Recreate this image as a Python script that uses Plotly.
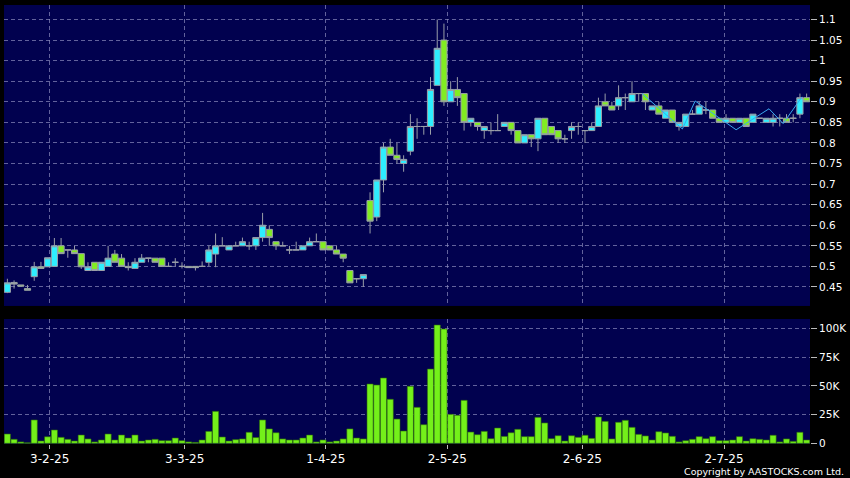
import plotly.graph_objects as go

# ---- data ----
open_ = [0.437, 0.461, 0.455, 0.446, 0.475, 0.499, 0.499, 0.50, 0.55, 0.54,
         0.54, 0.531, 0.49, 0.51, 0.49, 0.50, 0.53, 0.52, 0.50, 0.495,
         0.51, 0.52, 0.52, 0.52, 0.50, 0.51, 0.50, 0.50, 0.50, 0.50,
         0.51, 0.53, 0.55, 0.54, 0.55, 0.55, 0.55, 0.55, 0.57, 0.59,
         0.56, 0.55, 0.54, 0.54, 0.54, 0.55, 0.56, 0.56, 0.55, 0.54,
         0.53, 0.49, 0.47, 0.47, 0.66, 0.62, 0.71, 0.79, 0.77, 0.75,
         0.78, 0.84, 0.84, 0.84, 0.94, 1.05, 0.90, 0.93, 0.92, 0.85,
         0.85, 0.83, 0.83, 0.83, 0.84, 0.85, 0.83, 0.80, 0.82, 0.81,
         0.86, 0.84, 0.83, 0.81, 0.83, 0.84, 0.83, 0.83, 0.84, 0.90,
         0.89, 0.89, 0.91, 0.90, 0.92, 0.92, 0.88, 0.89, 0.86, 0.88,
         0.84, 0.84, 0.87, 0.87, 0.88, 0.88, 0.86, 0.85, 0.86, 0.85,
         0.86, 0.85, 0.86, 0.85, 0.85, 0.86, 0.86, 0.86, 0.87, 0.91]
high = [0.47, 0.466, 0.455, 0.455, 0.511, 0.511, 0.521, 0.569, 0.569, 0.54,
        0.55, 0.531, 0.51, 0.51, 0.51, 0.55, 0.54, 0.53, 0.51, 0.52,
        0.53, 0.52, 0.52, 0.52, 0.51, 0.52, 0.51, 0.50, 0.50, 0.512,
        0.55, 0.58, 0.571, 0.55, 0.56, 0.57, 0.56, 0.57, 0.63, 0.60,
        0.56, 0.56, 0.55, 0.56, 0.55, 0.57, 0.58, 0.56, 0.55, 0.55,
        0.53, 0.49, 0.47, 0.48, 0.68, 0.71, 0.80, 0.81, 0.80, 0.77,
        0.87, 0.86, 0.84, 0.96, 1.10, 1.09, 0.95, 0.96, 0.92, 0.86,
        0.85, 0.84, 0.85, 0.87, 0.85, 0.85, 0.83, 0.82, 0.82, 0.86,
        0.86, 0.84, 0.83, 0.82, 0.85, 0.85, 0.83, 0.85, 0.91, 0.92,
        0.90, 0.94, 0.92, 0.95, 0.92, 0.92, 0.89, 0.90, 0.88, 0.88,
        0.85, 0.87, 0.88, 0.90, 0.90, 0.88, 0.86, 0.87, 0.86, 0.86,
        0.86, 0.87, 0.86, 0.86, 0.87, 0.87, 0.87, 0.87, 0.92, 0.92]
low = [0.435, 0.446, 0.452, 0.442, 0.465, 0.495, 0.499, 0.50, 0.531, 0.521,
       0.531, 0.494, 0.49, 0.49, 0.49, 0.50, 0.51, 0.50, 0.49, 0.495,
       0.51, 0.51, 0.51, 0.50, 0.50, 0.50, 0.495, 0.497, 0.49, 0.50,
       0.50, 0.498, 0.55, 0.54, 0.55, 0.55, 0.54, 0.54, 0.56, 0.55,
       0.54, 0.55, 0.53, 0.54, 0.54, 0.55, 0.56, 0.54, 0.54, 0.53,
       0.51, 0.46, 0.46, 0.45, 0.58, 0.61, 0.68, 0.77, 0.75, 0.73,
       0.77, 0.81, 0.82, 0.82, 0.94, 0.89, 0.90, 0.89, 0.83, 0.84,
       0.83, 0.81, 0.82, 0.83, 0.84, 0.82, 0.80, 0.80, 0.79, 0.78,
       0.82, 0.82, 0.80, 0.80, 0.81, 0.82, 0.80, 0.83, 0.84, 0.89,
       0.88, 0.88, 0.88, 0.90, 0.90, 0.88, 0.88, 0.87, 0.86, 0.85,
       0.83, 0.84, 0.87, 0.87, 0.87, 0.86, 0.85, 0.85, 0.85, 0.85,
       0.84, 0.85, 0.86, 0.85, 0.84, 0.84, 0.85, 0.85, 0.86, 0.90]
close = [0.46, 0.457, 0.452, 0.442, 0.499, 0.495, 0.521, 0.55, 0.531, 0.54,
         0.531, 0.499, 0.499, 0.49, 0.51, 0.52, 0.51, 0.50, 0.497, 0.51,
         0.52, 0.52, 0.51, 0.50, 0.50, 0.51, 0.50, 0.497, 0.497, 0.50,
         0.54, 0.55, 0.55, 0.55, 0.55, 0.56, 0.55, 0.57, 0.60, 0.57,
         0.55, 0.55, 0.54, 0.54, 0.55, 0.56, 0.56, 0.54, 0.54, 0.53,
         0.52, 0.46, 0.47, 0.48, 0.61, 0.71, 0.79, 0.77, 0.76, 0.76,
         0.84, 0.84, 0.84, 0.93, 1.03, 0.90, 0.93, 0.91, 0.85, 0.86,
         0.84, 0.84, 0.83, 0.83, 0.85, 0.83, 0.80, 0.82, 0.81, 0.86,
         0.82, 0.82, 0.81, 0.81, 0.84, 0.84, 0.83, 0.84, 0.89, 0.89,
         0.88, 0.91, 0.91, 0.92, 0.92, 0.90, 0.89, 0.87, 0.88, 0.85,
         0.85, 0.87, 0.87, 0.89, 0.88, 0.86, 0.85, 0.86, 0.85, 0.86,
         0.84, 0.87, 0.86, 0.86, 0.86, 0.86, 0.85, 0.86, 0.91, 0.90]
volume = [8100, 3500, 1200, 500, 20300, 2000, 5700, 11600, 5200, 3500,
          2000, 7200, 3800, 1200, 2900, 8100, 2900, 7200, 4600, 7200,
          2000, 2900, 3500, 2300, 2300, 4600, 2300, 1200, 800, 2900,
          10400, 27800, 5500, 2000, 3200, 3800, 9600, 5000, 20300, 12500,
          9200, 3800, 2900, 2900, 4600, 7200, 1200, 2900, 1200, 2000,
          3800, 12500, 4600, 3800, 51600, 50700, 56800, 38300, 21100, 10700,
          49600, 31300, 16200, 64600, 102900, 99400, 25200, 24400, 37400, 9800,
          7500, 10400, 4000, 13300, 6000, 9200, 12200, 5800, 5800, 22600,
          17700, 4000, 6600, 2000, 6600, 5200, 7000, 4300, 22900, 19100,
          3800, 18300, 20000, 13900, 7800, 6400, 2900, 10100, 9000, 6100,
          1200, 2300, 3500, 5800, 4000, 5800, 2300, 2300, 2900, 5800,
          2000, 4000, 3500, 2900, 7000, 1200, 3800, 1700, 9600, 2900]
days = list(range(len(close)))

# thin comparison line over the last weeks (vertices)
line_pos = [94.5, 100.5, 102.4, 108.5, 113.4, 115.5, 118.3]
line_val = [0.92, 0.834, 0.902, 0.832, 0.883, 0.847, 0.912]

tick_pos = [6.3, 26.4, 47.4, 65.5, 85.6, 106.7]
tick_labels = ["3-2-25", "3-3-25", "1-4-25", "2-5-25", "2-6-25", "2-7-25"]
price_ticks = [0.45, 0.5, 0.55, 0.6, 0.65, 0.7, 0.75, 0.8, 0.85, 0.9, 0.95, 1.0, 1.05, 1.1]
price_labels = ["0.45", "0.5", "0.55", "0.6", "0.65", "0.7", "0.75", "0.8", "0.85",
                "0.9", "0.95", "1", "1.05", "1.1"]
vol_ticks = [0, 25000, 50000, 75000, 100000]
vol_labels = ["0", "25K", "50K", "75K", "100K"]

# ---- styles ----
NAVY = "#01014f"
GRID = "rgba(140,140,190,0.7)"
UP = "#2EEEFF"
DOWN = "#82EC22"
EDGE = "#9a9fa8"

fig = go.Figure()
fig.add_trace(go.Candlestick(
    x=days, open=open_, high=high, low=low, close=close,
    increasing=dict(fillcolor=UP, line=dict(color=EDGE, width=1)),
    decreasing=dict(fillcolor=DOWN, line=dict(color=EDGE, width=1)),
    whiskerwidth=0, xaxis="x", yaxis="y", showlegend=False, hoverinfo="skip"))
fig.add_trace(go.Scatter(
    x=line_pos, y=line_val, mode="lines",
    line=dict(color="#3aa8f0", width=1), xaxis="x", yaxis="y",
    showlegend=False, hoverinfo="skip"))
fig.add_trace(go.Bar(
    x=days, y=volume, marker=dict(color="#74F01A", line=dict(color="#2d6a0c", width=0.6)),
    xaxis="x2", yaxis="y2", showlegend=False, hoverinfo="skip"))

font_ax = dict(family="DejaVu Sans", size=10.5, color="#ffffff")
grid_common = dict(showgrid=True, gridcolor=GRID, gridwidth=1, griddash="4px,3px",
                   zeroline=False, showline=False)

fig.update_layout(
    width=850, height=478,
    margin=dict(l=4, r=40, t=5, b=34),
    paper_bgcolor="#000000", plot_bgcolor=NAVY,
    boxgap=0.08, boxgroupgap=0, bargap=0.08,
    font=dict(family="DejaVu Sans", color="#ffffff"),
    xaxis=dict(domain=[0, 1], range=[-0.5, 119.5], anchor="y",
               tickmode="array", tickvals=tick_pos, showticklabels=False, ticks="",
               rangeslider=dict(visible=False), **grid_common),
    yaxis=dict(domain=[0.3144, 1], range=[0.4038, 1.1352], side="right", anchor="x",
               tickmode="array", tickvals=price_ticks, ticktext=price_labels,
               ticks="outside", ticklen=6, tickcolor="#bbbbbb", tickfont=font_ax,
               **grid_common),
    xaxis2=dict(domain=[0, 1], range=[-0.5, 119.5], anchor="y2",
                tickmode="array", tickvals=tick_pos, ticktext=tick_labels,
                ticks="outside", ticklen=4, tickcolor="#bbbbbb",
                tickfont=dict(family="DejaVu Sans", size=12, color="#ffffff"),
                **grid_common),
    yaxis2=dict(domain=[0, 0.2847], range=[-600, 108100], side="right", anchor="x2",
                tickmode="array", tickvals=vol_ticks, ticktext=vol_labels,
                ticks="outside", ticklen=6, tickcolor="#bbbbbb", tickfont=font_ax,
                **grid_common),
    annotations=[dict(text="Copyright by AASTOCKS.com Ltd.", xref="paper", yref="paper",
                      x=1.0447, y=-0.062, xanchor="right", yanchor="middle",
                      showarrow=False, font=dict(family="DejaVu Sans", size=9.5, color="#ffffff"))],
)

fig.write_html("out.html", config={"displayModeBar": False},
               post_script="document.body.style.margin='0';document.body.style.background='#000';")
